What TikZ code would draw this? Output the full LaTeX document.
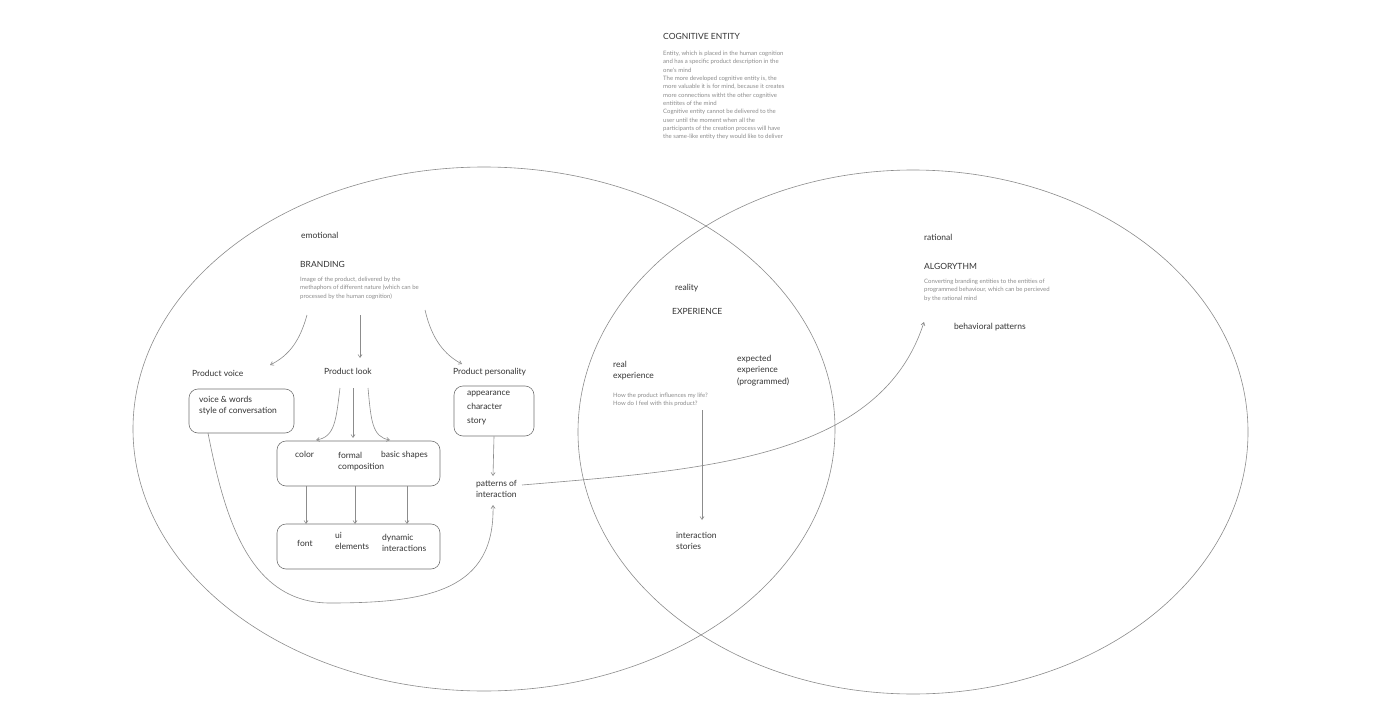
\documentclass[tikz,border=0pt]{standalone}
\usepackage{fontspec}
\setmainfont{Lato}
\usetikzlibrary{arrows.meta}
\begin{document}
\begin{tikzpicture}[x=1pt,y=-1pt,
  lbl/.style={anchor=north west,inner sep=0pt,font=\fontsize{8.5}{11.5}\selectfont,text=black!80,align=left},
  sm/.style={anchor=north west,inner sep=0pt,font=\fontsize{6}{8.3}\selectfont,text=black!45,align=left},
  box/.style={draw=black!55,rounded corners=9pt,line width=0.6pt},
  arr/.style={draw=black!45,line width=0.6pt,-{Straight Barb[length=3pt,width=4pt]}},
  ell/.style={draw=black!45,line width=0.6pt}]
\useasboundingbox[fill=white] (0,0) rectangle (1391,714);
\draw[ell] (484,429) ellipse [x radius=351,y radius=262];
\draw[ell] (913,432) ellipse [x radius=335,y radius=262];
% cognitive entity
\node[lbl,font=\fontsize{8.5}{10}\selectfont] (ce) at (663,33) {COGNITIVE ENTITY};
\node[sm] (ced) at (663,51) {Entity, which is placed in the human cognition\\and has a specific product description in the\\one`s mind\\The more developed cognitive entity is, the\\more valuable it is for mind, because it creates\\more connections witht the other cognitive\\entitites of the mind\\Cognitive entity cannot be delivered to the\\user until the moment when all the\\participants of the creation process will have\\the same-like entity they would like to deliver};
% left
\node[lbl] (emo) at (301,232) {emotional};
\node[lbl] (br) at (300,261) {BRANDING};
\node[sm] (brd) at (300,277) {Image of the product, delivered by the\\methaphors of different nature (which can be\\processed by the human cognition)};
\node[lbl] (pv) at (192,370) {Product voice};
\node[lbl] (pl) at (324,368) {Product look};
\node[lbl] (pp) at (453,368) {Product personality};
\node[box,minimum width=105pt,minimum height=44pt] (vb) at (241.5,411) {};
\node[lbl] (vt) at (199,396) {voice \& words\\style of conversation};
\node[box,minimum width=80pt,minimum height=50pt] (pb) at (494,411) {};
\node[lbl,font=\fontsize{8.5}{14}\selectfont] (pt) at (467,391) {appearance\\character\\story};
\node[box,minimum width=163pt,minimum height=45pt] (cb) at (358.5,463.5) {};
\node[lbl] (c1) at (295,451) {color};
\node[lbl] (c2) at (338,452) {formal\\composition};
\node[lbl] (c3) at (381,451) {basic shapes};
\node[box,minimum width=163pt,minimum height=45pt] (fb) at (358.5,546.5) {};
\node[lbl] (f1) at (297,540) {font};
\node[lbl] (f2) at (335,532) {ui\\elements};
\node[lbl] (f3) at (382,534) {dynamic\\interactions};
\node[lbl] (pi) at (476,480) {patterns of\\interaction};
\coordinate (pin) at (493,505);
% arrows
\draw[arr] (307,315) .. controls (300,340) and (290,355) .. (270,365);
\draw[arr] (360,315) -- (360,358);
\draw[arr] (425,310) .. controls (432,340) and (445,355) .. (462,364);
\draw[arr] (340,388) .. controls (336,420) and (335,437) .. (316,440);
\draw[arr] (353,388) -- (353,438);
\draw[arr] (368,388) .. controls (371,420) and (372,437) .. (390,440);
\draw[arr] (306,486) -- (306,524);
\draw[arr] (355,486) -- (355,524);
\draw[arr] (407,486) -- (407,524);
\draw[arr] (pb.south) -- (493,476);
\draw[arr] (208,433) .. controls (225,520) and (250,603) .. (330,603) .. controls (430,603) and (495,590) .. (pin);
\draw[arr] (522,485) .. controls (700,470) and (880,460) .. (924,322);
% middle
\node[lbl] (rea) at (675,284) {reality};
\node[lbl] (exp) at (672,308) {EXPERIENCE};
\node[lbl] (re) at (613,361) {real\\experience};
\node[sm] (red) at (613,393) {How the product influences my life?\\How do I feel with this product?};
\node[lbl] (ee) at (737,355) {expected\\experience\\(programmed)};
\node[lbl] (is) at (676,532) {interaction\\stories};
\draw[arr] (702,410) -- (702,520);
% right
\node[lbl] (rat) at (924,234) {rational};
\node[lbl] (alg) at (924,263) {ALGORYTHM};
\node[sm] (algd) at (924,279) {Converting branding entities to the entities of\\programmed behaviour, which can be percieved\\by the rational mind};
\node[lbl] (bp) at (954,323) {behavioral patterns};
\end{tikzpicture}
\end{document}
